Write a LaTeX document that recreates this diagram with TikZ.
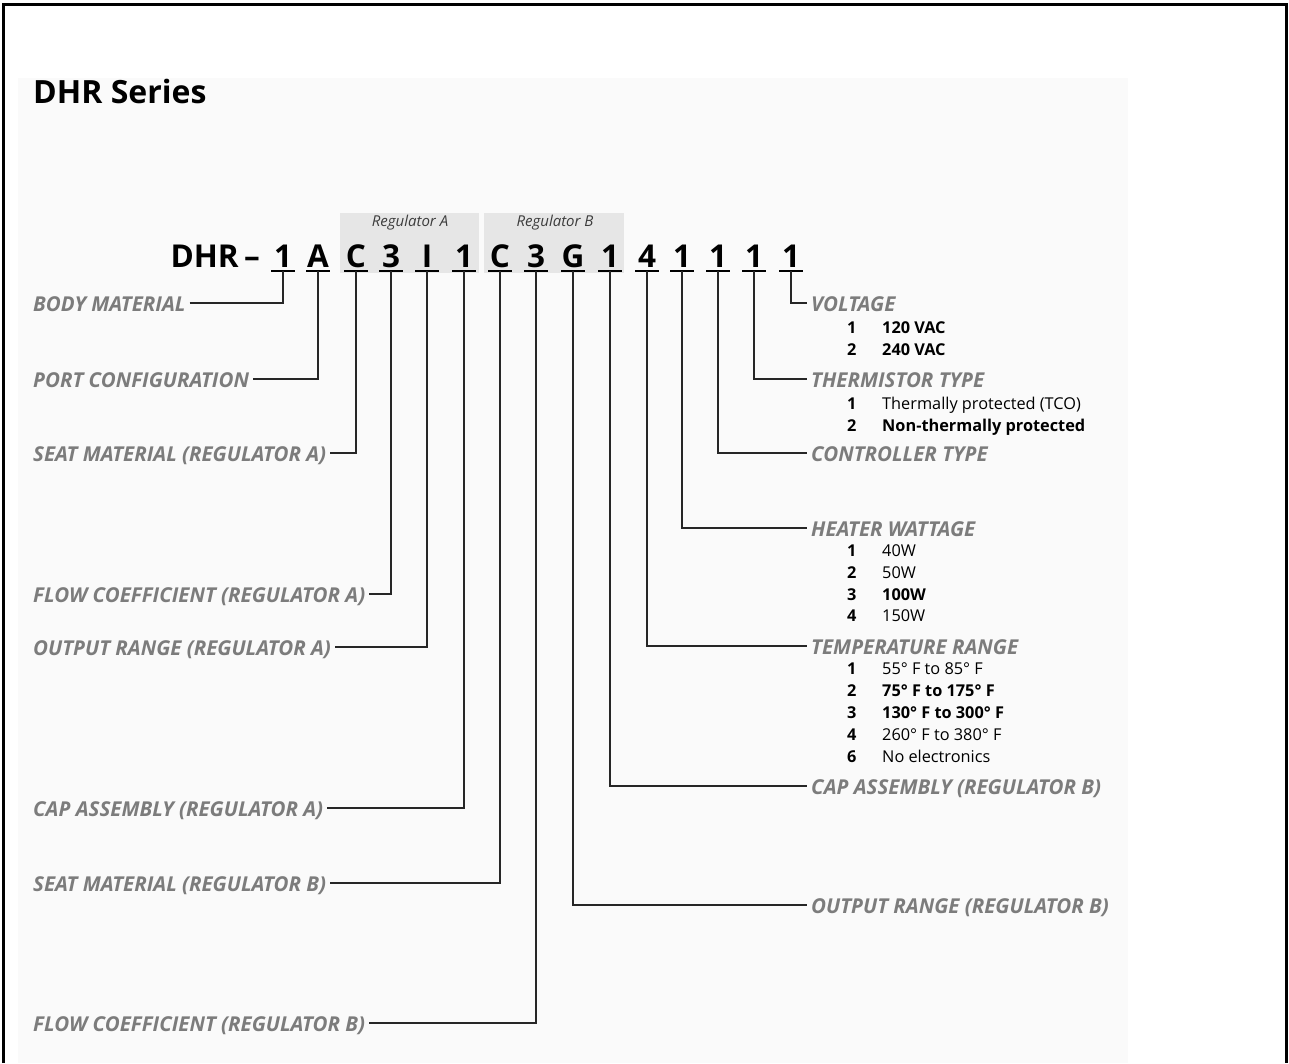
\documentclass[tikz,border=0pt]{standalone}
\usepackage{fontspec}
\setmainfont{Open Sans}
\definecolor{lblgray}{HTML}{7C7C7C}
\definecolor{linec}{HTML}{262626}
\definecolor{bggray}{HTML}{FAFAFA}
\definecolor{regbox}{HTML}{E6E6E6}
\definecolor{regtext}{HTML}{3C3C3C}
\begin{document}
\begin{tikzpicture}[x=1pt,y=-1pt,
  lbl/.style={anchor=west,inner sep=0pt,text height=16pt,text depth=0pt,
    font=\fontsize{20.5}{20.5}\selectfont\bfseries\itshape,text=lblgray},
  code/.style={anchor=base,inner sep=0pt,font=\fontsize{31.5}{31.5}\selectfont\bfseries},
  optn/.style={anchor=base west,inner sep=0pt,font=\fontsize{16.3}{16.3}\selectfont\bfseries},
  optt/.style={anchor=base west,inner sep=0pt,font=\fontsize{16.3}{16.3}\selectfont},
  optb/.style={optt,font=\fontsize{16.3}{16.3}\selectfont\bfseries},
  wire/.style={draw=linec,line width=1.6pt},
  uline/.style={draw=black,line width=2pt},
  regt/.style={anchor=base,inner sep=0pt,font=\fontsize{15}{15}\selectfont\itshape,text=regtext}]
\useasboundingbox (0,0) rectangle (1289,1063);
\fill[white] (0,0) rectangle (1289,1063);
\fill[bggray] (18,78) rectangle (1128,1063);
\draw[line width=3pt] (3.5,1063) -- (3.5,4) -- (1286.5,4) -- (1286.5,1063);
% title
\node[anchor=base west,inner sep=0pt,font=\fontsize{32}{32}\selectfont\bfseries] (title) at (33,103) {DHR Series};
% regulator boxes
\fill[regbox] (340,213) rectangle (479,273);
\fill[regbox] (484,213) rectangle (624,273);
\node[regt] (regA) at (410,226) {Regulator A};
\node[regt] (regB) at (555,226) {Regulator B};
% code
\node[anchor=base east,inner sep=0pt,font=\fontsize{31.5}{31.5}\selectfont\bfseries] (dhr) at (260,267) {DHR\,\textendash};
\foreach \n/\ch/\x in {1/1/283,2/A/318,3/C/356,4/3/391,5/I/427,6/1/464,7/C/500,8/3/536,9/G/573,10/1/610,11/4/647,12/1/682,13/1/718,14/1/754,15/1/791}{
  \node[code] (c\n) at (\x,267) {\ch};
  \draw[uline] ([xshift=-12pt,yshift=-4pt]c\n.base) -- ([xshift=12pt,yshift=-4pt]c\n.base);
}
% left labels
\node[lbl] (lBody) at (33,303) {BODY MATERIAL};
\node[lbl] (lPort) at (33,379) {PORT CONFIGURATION};
\node[lbl] (lSeatA) at (33,453) {SEAT MATERIAL (REGULATOR A)};
\node[lbl] (lFlowA) at (33,594) {FLOW COEFFICIENT (REGULATOR A)};
\node[lbl] (lOutA) at (33,647) {OUTPUT RANGE (REGULATOR A)};
\node[lbl] (lCapA) at (33,808) {CAP ASSEMBLY (REGULATOR A)};
\node[lbl] (lSeatB) at (33,883) {SEAT MATERIAL (REGULATOR B)};
\node[lbl] (lFlowB) at (33,1023) {FLOW COEFFICIENT (REGULATOR B)};
\foreach \l/\c in {lBody/c1,lPort/c2,lSeatA/c3,lFlowA/c4,lOutA/c5,lCapA/c6,lSeatB/c7,lFlowB/c8}{
  \draw[wire,shorten <=4pt] (\l.east) -| ([yshift=-4pt]\c.base);
}
% right labels
\node[lbl] (rVolt) at (811,303) {VOLTAGE};
\node[lbl] (rTherm) at (811,379) {THERMISTOR TYPE};
\node[lbl] (rCtrl) at (811,453) {CONTROLLER TYPE};
\node[lbl] (rHeat) at (811,528) {HEATER WATTAGE};
\node[lbl] (rTemp) at (811,646) {TEMPERATURE RANGE};
\node[lbl] (rCapB) at (811,786) {CAP ASSEMBLY (REGULATOR B)};
\node[lbl] (rOutB) at (811,905) {OUTPUT RANGE (REGULATOR B)};
\foreach \l/\c in {rVolt/c15,rTherm/c14,rCtrl/c13,rHeat/c12,rTemp/c11,rCapB/c10,rOutB/c9}{
  \draw[wire,shorten >=4pt] ([yshift=-4pt]\c.base) |- (\l.west);
}
% options
\node[optn] (v1n) at (847,333) {1}; \node[optb] (v1) at (882,333) {120 VAC};
\node[optn] (v2n) at (847,355) {2}; \node[optb] (v2) at (882,355) {240 VAC};
\node[optn] (t1n) at (847,409) {1}; \node[optt] (t1) at (882,409) {Thermally protected (TCO)};
\node[optn] (t2n) at (847,431) {2}; \node[optb] (t2) at (882,431) {Non-thermally protected};
\node[optn] (h1n) at (847,556) {1}; \node[optt] (h1) at (882,556) {40W};
\node[optn] (h2n) at (847,578) {2}; \node[optt] (h2) at (882,578) {50W};
\node[optn] (h3n) at (847,600) {3}; \node[optb] (h3) at (882,600) {100W};
\node[optn] (h4n) at (847,621) {4}; \node[optt] (h4) at (882,621) {150W};
\node[optn] (r1n) at (847,674) {1}; \node[optt] (r1) at (882,674) {55° F to 85° F};
\node[optn] (r2n) at (847,696) {2}; \node[optb] (r2) at (882,696) {75° F to 175° F};
\node[optn] (r3n) at (847,718) {3}; \node[optb] (r3) at (882,718) {130° F to 300° F};
\node[optn] (r4n) at (847,740) {4}; \node[optt] (r4) at (882,740) {260° F to 380° F};
\node[optn] (r6n) at (847,762) {6}; \node[optt] (r6) at (882,762) {No electronics};
\end{tikzpicture}
\end{document}
